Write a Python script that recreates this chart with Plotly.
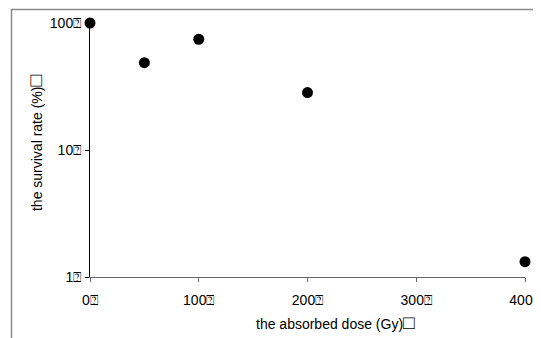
import plotly.graph_objects as go

dose = [0, 50, 100, 200, 400]
survival = [100, 48.7, 74.5, 28.3, 1.32]
x_ticks = [0, 100, 200, 300, 400]
x_tick_text = ["0\u2370", "100\u2370", "200\u2370", "300\u2370", "400\u2370"]
y_ticks = [1, 10, 100]
y_tick_text = ["1\u2370", "10\u2370", "100\u2370"]
box = '<span style="font-size:19px">\u25a1</span>'
x_title = "the absorbed dose (Gy)" + box
y_title = "the survival rate (%)" + box

font = dict(family="Liberation Sans, Arial, sans-serif", size=14, color="#000")

fig = go.Figure()
fig.add_trace(go.Scatter(
    x=dose, y=survival, mode="markers", cliponaxis=False,
    marker=dict(symbol="circle", size=11, color="#000"),
    showlegend=False,
))

fig.update_layout(
    width=541, height=338,
    margin=dict(l=82, r=24, t=15, b=69),
    paper_bgcolor="white", plot_bgcolor="white",
    font=font,
    xaxis=dict(
        range=[0, 400], tickvals=x_ticks, ticktext=x_tick_text, automargin=False,
        showgrid=False, zeroline=False, showline=True, linecolor="#666", linewidth=1,
        ticks="outside", ticklen=4, tickcolor="#666", ticklabelstandoff=6,
        tickfont=font,
    ),
    yaxis=dict(
        type="log", range=[0, 2], tickvals=y_ticks, ticktext=y_tick_text, automargin=False,
        showgrid=False, zeroline=False, showline=True, linecolor="#000", linewidth=1,
        ticks="outside", ticklen=4, tickcolor="#000", ticklabelstandoff=1,
        tickfont=font,
    ),
    shapes=[dict(type="rect", xref="paper", yref="paper",
                 x0=-0.1805, x1=1.2, y0=-0.5, y1=1.053,
                 line=dict(color="#888", width=1.5), fillcolor="rgba(0,0,0,0)")],
    annotations=[
        dict(text=x_title, xref="paper", yref="paper", x=0.5655, y=-0.181,
             showarrow=False, xanchor="center", yanchor="middle", font=font),
        dict(text=y_title, xref="paper", yref="paper", x=-0.124, y=0.5276,
             showarrow=False, xanchor="center", yanchor="middle", textangle=-90, font=font),
    ],
)

fig.write_html("out.html")
